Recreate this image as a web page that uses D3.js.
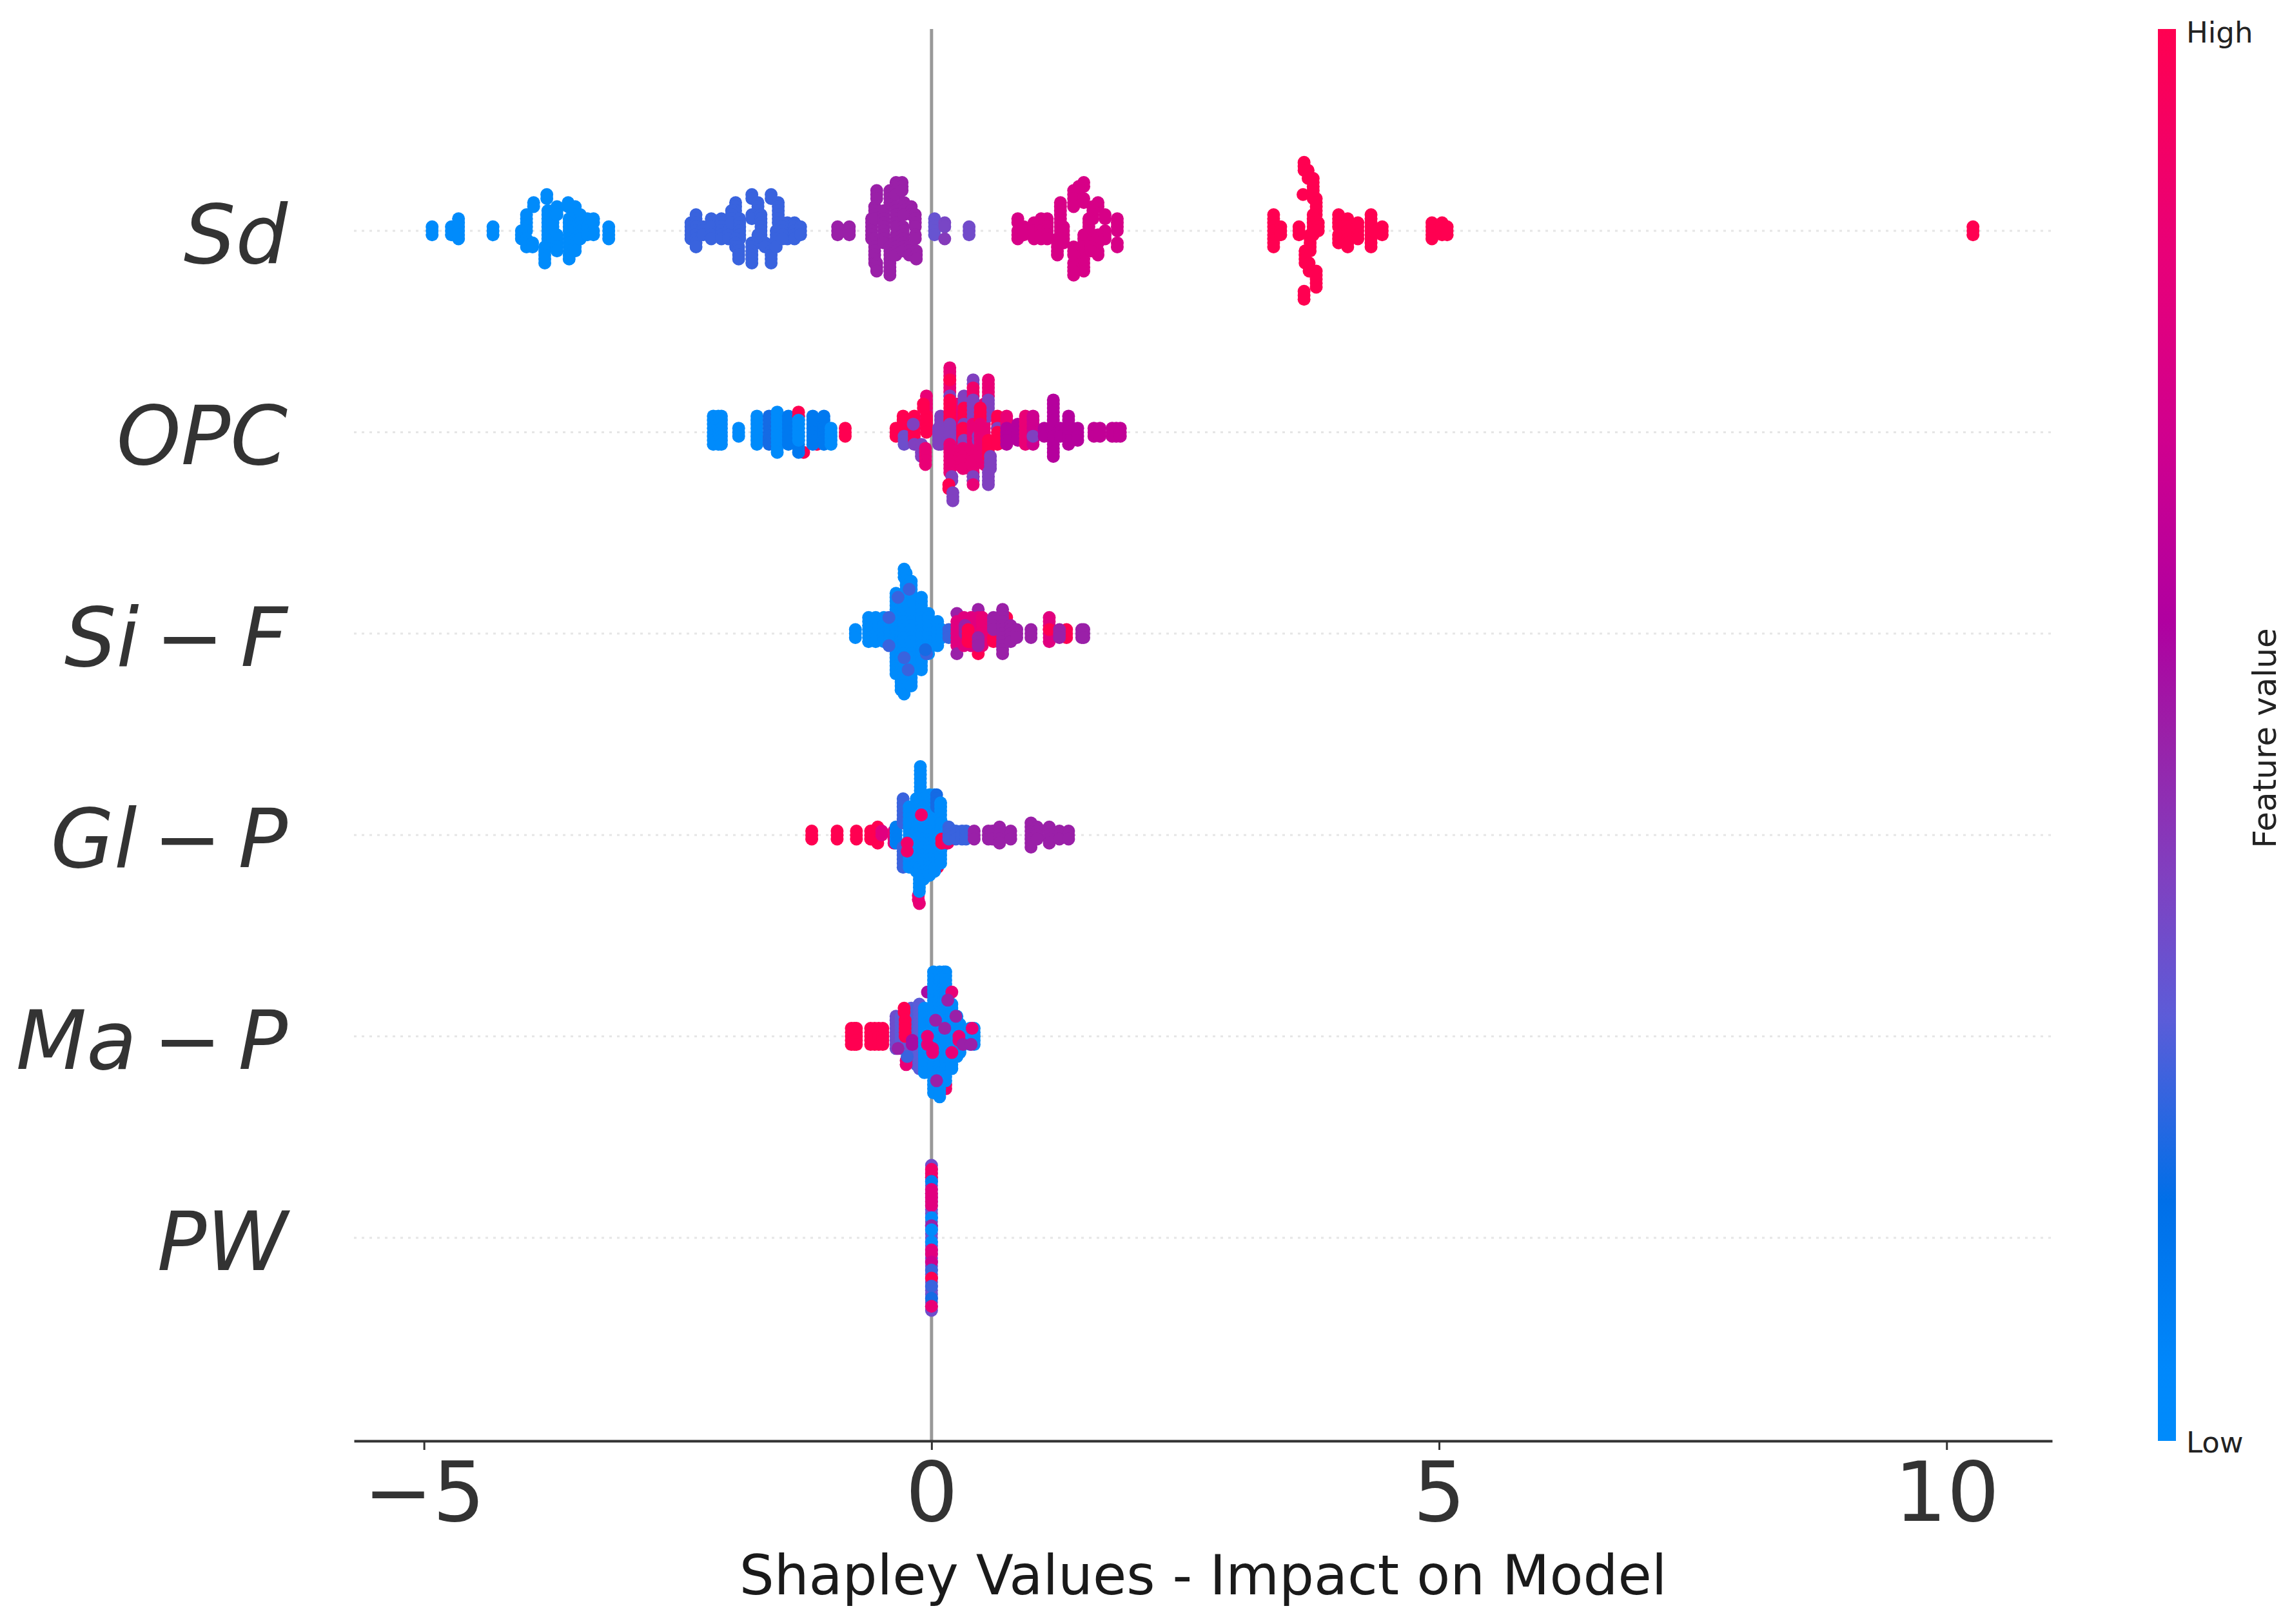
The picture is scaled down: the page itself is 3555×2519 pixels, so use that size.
<!DOCTYPE html>
<html>
<head>
<meta charset="utf-8">
<script src="https://cdn.jsdelivr.net/npm/d3@7"></script>
<style>
body { margin: 0; background: #fff; }
text { font-family: "DejaVu Sans", sans-serif; }
</style>
</head>
<body>
<svg id="chart" width="3555" height="2519"></svg>
<script>
// values. each run is [shap value, first layer, last layer, feature value]
// layers are the swarm stacking steps round the row line (negative = above)
var features = ["Sd", "OPC", "Si − F", "Gl − P", "Ma − P", "PW"];
var xTicks = [-5, 0, 5, 10];
var colorLevels = [0, 0.05, 0.17, 0.3, 0.4, 0.5, 0.58, 0.71, 0.84, 1];
var colorValues = ["#008bfb", "#0088fb", "#006fe8", "#5c5cd8", "#8040c0", "#9a20a8", "#b000a0", "#d0008e", "#e80078", "#ff0051"];

var sdRuns = [
  [-4.92,-1,1,0],[-4.73,-1,1,0],[-4.66,-3,2,0],[-4.32,-1,1,0],
  [-3.99,-4,0,0],[-4.04,0,2,0],[-3.99,2,4,0],[-3.93,3,4,0],[-3.92,-7,-6,0],
  [-3.79,-9,-8,0],[-3.78,-5,4,0],[-3.81,4,8,0],[-3.73,-2,2,0],[-3.69,-6,-4,0],[-3.69,1,5,0],
  [-3.58,-7,-6,0],[-3.51,-6,-3,0],[-3.46,-4,-2,0],[-3.57,-3,3,0],[-3.57,3,7,0],[-3.51,1,5,0],
  [-3.46,-2,2,0],[-3.39,-3,1,0],[-3.33,-3,-2,0],[-3.33,0,1,0],[-3.18,-1,2,0],
  [-2.37,-2,2,0.25],[-2.32,-4,4,0.25],[-2.25,-1,1,0.25],[-2.17,-3,-1,0.25],[-2.17,1,2,0.25],
  [-2.07,-3,2,0.25],[-2,0,2,0.25],[-1.93,-7,-5,0.25],[-1.97,-5,-2,0.25],[-1.89,-3,2,0.25],
  [-1.93,2,4,0.25],[-1.9,4,7,0.25],[-1.77,-9,-8,0.25],[-1.71,-7,-5,0.25],[-1.77,-4,-3,0.25],
  [-1.68,-4,1,0.25],[-1.71,1,3,0.25],[-1.77,3,8,0.25],[-1.64,3,4,0.25],[-1.58,5,8,0.25],
  [-1.58,-9,-8,0.25],[-1.51,-7,-2,0.25],[-1.42,-2,2,0.25],[-1.53,0,4,0.25],[-1.47,-2,2,0.25],
  [-1.35,-2,2,0.25],[-1.29,-1,1,0.25],
  [-0.925,-1,1,0.5],[-0.81,-1,1,0.5],[-0.59,-3,2,0.5],[-0.54,-10,-8,0.5],[-0.56,-6,-3,0.5],
  [-0.56,2,8,0.5],[-0.54,8,10,0.5],[-0.47,-5,3,0.5],[-0.41,-10,-7,0.5],[-0.35,-12,-9,0.5],
  [-0.41,4,11,0.5],[-0.35,1,6,0.5],[-0.35,-6,-1,0.5],[-0.29,-12,-10,0.5],[-0.27,-7,-4,0.5],
  [-0.2,-6,-4,0.5],[-0.16,-4,-1,0.5],[-0.28,-1,5,0.5],[-0.16,1,2,0.5],[-0.22,4,6,0.5],[-0.15,5,7,0.5],
  [0.03,-3,1,0.33],[0.13,-2,-1,0.38],[0.13,2,2,0.42],[0.37,-1,1,0.36],
  [0.85,-3,-2,0.75],[0.85,0,2,0.75],[0.91,-1,1,0.75],[1.01,-2,2,0.75],[1.08,-3,2,0.75],[1.14,-3,2,0.75],
  [1.27,-7,-3,0.75],[1.27,-2,1,0.75],[1.24,2,6,0.75],[1.3,-1,3,0.75],[1.5,-12,-11,0.75],[1.45,-11,-10,0.75],
  [1.4,-10,-8,0.75],[1.4,-7,-6,0.75],[1.5,-8,-7,0.75],[1.64,-7,-6,0.75],[1.59,-6,-3,0.75],[1.55,-3,3,0.75],
  [1.71,-4,-3,0.75],[1.83,-3,0,0.75],[1.83,3,4,0.75],[1.71,0,2,0.75],[1.64,1,3,0.75],[1.5,1,10,0.75],
  [1.4,4,6,0.75],[1.4,8,11,0.75],[1.64,5,6,0.75],[1.57,3,5,0.75],
  [3.37,-4,4,1],[3.44,-1,1,1],[3.62,-1,1,1],[3.66,-9,-9,1],[3.67,-17,-15,1],[3.71,-15,-13,1],
  [3.76,-13,-8,1],[3.79,-8,-4,1],[3.76,-4,1,1],[3.81,-2,0,1],[3.73,1,5,1],[3.68,5,8,1],[3.72,8,10,1],
  [3.79,10,11,1],[3.79,12,14,1],[3.67,15,17,1],[4.01,-4,-1,1],[4.01,1,3,1],[4.1,-3,4,1],
  [4.2,-2,2,1],[4.33,-4,4,1],[4.44,-1,1,1],[4.93,-2,2,1],[5.03,-2,1,1],[5.08,-1,1,1],[10.26,-1,1,1]
];

var opcRuns = [
  [-1.71,2,2,1],[-1.26,5,5,1],[-1.13,3,3,1],
  [-2.15,-4,3,0],[-2.1,-4,3,0],[-2.07,-4,3,0],[-1.9,-1,1,0],[-1.72,-4,3,0],[-1.6,-4,3,0.2],
  [-1.52,-5,5,0],[-1.41,-4,3,0.12],[-1.31,-4,5,0.12],[-1.31,-5,-4,1],[-1.31,-3,2,0],
  [-1.17,-4,3,0.12],[-1.06,-4,3,0.12],[-0.99,-1,3,0],[-0.85,-1,1,1],
  [-0.35,-1,1,1],[-0.28,-4,0,1],[-0.27,1,3,0.35],[-0.17,-4,2,1],[-0.18,-2,-2,0.4],[-0.17,3,3,0.4],
  [-0.05,-9,-1,0.85],[-0.08,-7,-6,1],[-0.05,-4,0,1],[-0.1,3,6,0.4],[-0.06,4,8,0.85],
  [0.25,-7,8,0.85],[0.37,-6,9,0.85],[0.52,-7,8,0.85],
  [0.09,-4,3,0.4],[0.07,-1,3,0.4],[0.18,-16,-10,0.85],[0.18,-13,-13,1],[0.18,-9,-9,0.4],
  [0.18,-8,-3,1],[0.18,-2,3,0.4],[0.18,3,7,0.85],[0.18,8,10,0.85],[0.2,11,12,0.4],[0.17,13,14,1],[0.21,15,17,0.4],
  [0.32,-9,-6,0.4],[0.32,-6,-3,1],[0.32,-2,1,0.4],[0.31,-1,1,1],[0.32,2,3,0.4],[0.31,4,9,0.85],
  [0.41,-13,-12,0.4],[0.41,-11,-9,0.9],[0.41,-8,-3,0.4],[0.41,-2,4,0.85],[0.46,1,2,0.4],[0.41,5,12,0.85],
  [0.41,11,12,0.4],[0.41,13,13,0.85],[0.56,-13,-9,0.85],[0.56,-8,-4,0.4],[0.48,-6,-3,1],[0.48,-2,6,0.85],
  [0.56,2,6,1],[0.58,6,9,0.4],[0.56,10,13,0.4],[0.65,-4,-1,1],[0.65,-1,0,0.4],[0.65,0,3,1],
  [0.74,-4,-1,0.85],[0.74,-1,3,0.6],[0.85,-2,2,0.6],[0.925,-4,3,0.85],[1,-4,3,0.7],[1,1,1,0.4],
  [1.11,-1,1,0.6],[1.2,-8,6,0.6],[1.27,-1,1,0.6],[1.35,-4,3,0.6],[1.44,-1,2,0.6],
  [1.6,-1,1,0.65],[1.66,-1,1,0.65],[1.78,-1,1,0.65],[1.82,-1,1,0.65],[1.86,-1,1,0.65]
];

var siRuns = [
  [-0.75,-1,1,0],[-0.62,-4,2,0],[-0.55,-4,2,0],[-0.47,-4,2,0],[-0.41,-4,2,0],
  [-0.35,-10,10,0],[-0.3,-9,14,0],[-0.27,-16,-14,0],[-0.25,-15,-9,0],[-0.27,-8,15,0],
  [-0.2,-13,-7,0],[-0.2,-6,13,0],[-0.1,-9,9,0],[-0.03,-5,5,0],[0.06,-3,3,0],[0.1,-1,1,0],
  [-0.42,-4,-4,0.25],[-0.42,3,3,0.25],[-0.33,-9,-9,0.25],[-0.22,-11,-11,0.25],[-0.27,6,6,0.25],
  [-0.23,9,9,0.25],[-0.05,5,5,0.25],[-0.06,4,4,0.2],[0.17,-1,1,0.25],
  [0.25,-5,-5,0.5],[0.25,-3,3,0.8],[0.25,5,5,0.5],[0.46,-6,-5,0.5],[0.46,4,5,1],
  [0.32,-4,3,0.8],[0.39,-4,3,0.8],[0.46,-4,3,0.8],[0.5,-4,3,0.85],[0.33,-2,0,0.5],
  [0.36,-1,2,1],[0.38,1,2,1],[0.46,1,3,0.5],
  [0.61,1,2,1],[0.61,-4,-1,0.5],[0.74,-4,-2,1],[0.7,-6,-3,0.5],[0.7,-3,3,0.5],[0.7,3,5,0.5],
  [0.78,-2,2,0.5],[0.84,-1,1,0.5],[0.98,-1,1,0.5],[1.33,-1,1,1],[1.16,-4,2,0.8],[1.16,-1,-1,1],
  [1.26,-1,1,0.5],[1.48,-1,1,0.5],[1.5,-1,1,0.5]
];

var glRuns = [
  [-1.18,-1,1,1],[-0.93,-1,1,1],[-0.74,-1,1,1],[-0.6,-1,1,1],[-0.56,-1,1,1],[-0.53,-2,2,1],
  [-0.49,-1,0,0.8],[-0.37,-1,2,0.85],[-0.12,17,17,0.85],[-0.13,15,16,0.85],[0.06,7,8,1],[-0.2,7,8,0.9],
  [-0.35,-2,2,0.1],[-0.28,-9,-3,0.25],[-0.28,3,8,0.25],[-0.22,-7,8,0],[-0.15,-9,9,0],
  [-0.11,-17,-8,0],[-0.12,8,14,0],[-0.08,-10,11,0],[-0.02,-10,10,0],[0.03,-10,9,0],
  [0.05,-10,-7,0.2],[0.09,-8,7,0],[0.1,-3,3,0],
  [-0.24,2,2,0.9],[-0.24,4,4,0.9],[-0.1,-5,-5,0.9],[0.1,1,2,1],[0.16,1,2,0.9],
  [0.17,-2,1,0.25],[0.24,-1,1,0.25],[0.3,-1,1,0.25],[0.34,-1,1,0.25],
  [0.42,-1,1,0.5],[0.56,-1,1,0.5],[0.6,-1,1,0.5],[0.67,-2,2,0.5],[0.78,-1,1,0.5],
  [0.98,-3,3,0.5],[1.04,-2,1,0.5],[1.16,-2,2,0.5],[1.26,-1,1,0.5],[1.35,-1,1,0.5]
];

var maRuns = [
  [-0.79,-2,2,1],[-0.76,-2,2,1],[-0.74,-2,2,1],[-0.6,-2,2,1],[-0.56,-2,2,1],[-0.52,-2,2,1],[-0.48,-2,2,1],
  [-0.35,-5,3,0.35],[-0.3,-5,3,0.3],[-0.2,-7,-5,0.3],[-0.2,-3,6,0.35],[-0.15,-7,7,0.28],[-0.12,-8,8,0.3],
  [-0.27,-7,-6,1],[-0.26,-4,0,1],[-0.25,6,7,0.85],[-0.24,5,5,0.25],[-0.33,3,3,0.5],[-0.19,1,2,0.55],
  [-0.04,-11,-11,0.55],[0.14,12,13,0.9],
  [-0.07,-7,9,0],[0,-6,-3,0],[0.02,-16,14,0],[0.08,-16,15,0],[0.12,-16,-8,0],[0.14,-16,11,0],
  [0.2,-8,8,0],[0.25,-5,5,0],[0.28,-3,4,0],[0.38,-2,2,0],[0.42,-2,2,0],
  [0.2,-11,-11,0.85],[0.16,-9,-9,0.5],[0.24,-5,-5,0.5],[0.04,-4,-4,0.5],[0.13,-2,-2,0.5],
  [-0.04,0,0,0.85],[-0.04,2,2,0.85],[0.01,3,4,0.85],[0.2,4,4,0.85],[0.27,0,1,0.85],[0.31,2,2,0.5],
  [0.4,-2,-2,0.85],[0.39,2,2,0.5],[0.05,11,11,0.5]
];

var pwRuns = [
  [0,-18,18,0.35],[0,-17,-15,0.9],[0,-14,-14,0.1],[0,-12,-8,0.8],[0,-5,-5,0],[0,-3,-3,0.5],[0,-2,-2,0],
  [0,1,1,0],[0,3,4,0.8],[0,6,6,0.7],[0,8,8,0.25],[0,10,10,1],[0,12,12,0.25],[0,15,15,0.2],[0,17,17,0.85]
];

var allRuns = [sdRuns, opcRuns, siRuns, glRuns, maRuns, pwRuns];

var svg = d3.select("#chart");

var x = d3.scaleLinear().domain([-5.69, 11.04]).range([549, 3183]);
var y = d3.scalePoint().domain(features).range([358, 1920]);
var layer = d3.scaleLinear().domain([-1, 1]).range([-6.25, 6.25]);
var color = d3.scaleLinear().domain(colorLevels).range(colorValues);
var barY = d3.scaleLinear().domain([0, 1]).range([2235, 45]);

// dotted row guides
svg.append("g").selectAll("line").data(features).enter().append("line")
    .attr("x1", 549).attr("x2", 3183)
    .attr("y1", function(d){ return y(d); })
    .attr("y2", function(d){ return y(d); })
    .attr("stroke", "#e6e6e6")
    .attr("stroke-width", 3)
    .attr("stroke-dasharray", "4 8");

// zero line
svg.append("line")
    .attr("x1", x(0)).attr("x2", x(0))
    .attr("y1", 45).attr("y2", 2235)
    .attr("stroke", "#999")
    .attr("stroke-width", 5);

// expand the runs to one dot per layer
features.forEach(function(name, i){
    var dots = [];
    allRuns[i].forEach(function(run){
        for (var l = run[1]; l <= run[2]; l++) {
            dots.push({v: run[0], l: l, f: run[3]});
        }
    });
    svg.append("g").selectAll("circle").data(dots).enter().append("circle")
        .attr("cx", function(d){ return x(d.v); })
        .attr("cy", function(d){ return y(name) + layer(d.l); })
        .attr("r", 10)
        .attr("fill", function(d){ return color(d.f); });
});

// x axis
var axis = svg.append("g")
    .attr("transform", "translate(0,2235)")
    .call(d3.axisBottom(x).tickValues(xTicks).tickSize(14).tickPadding(19).tickSizeOuter(0).tickFormat(d3.format("d")));
axis.select(".domain").attr("stroke", "#333").attr("stroke-width", 4);
axis.selectAll(".tick line").attr("stroke", "#333").attr("stroke-width", 3);
axis.selectAll(".tick text")
    .attr("fill", "#333")
    .style("font-size", "128px");

svg.append("text")
    .attr("x", 1866).attr("y", 2473)
    .attr("text-anchor", "middle")
    .attr("fill", "#1a1a1a")
    .style("font-size", "85px")
    .text("Shapley Values - Impact on Model");

// feature names, italic with an upright minus like the original
features.forEach(function(name){
    var parts = name.split(" − ");
    var t = svg.append("text")
        .attr("x", 446).attr("y", y(name) + 50)
        .attr("text-anchor", "end")
        .attr("fill", "#333")
        .style("font-size", "127px")
        .style("font-style", "italic");
    t.append("tspan").text(parts[0]);
    if (parts.length > 1) {
        t.append("tspan").attr("dx", "0.2em").style("font-style", "normal").text("−");
        t.append("tspan").attr("dx", "0.2em").text(parts[1]);
    }
});

// colour bar
var grad = svg.append("defs").append("linearGradient")
    .attr("id", "bar").attr("x1", 0).attr("x2", 0).attr("y1", 1).attr("y2", 0);
grad.selectAll("stop").data(colorLevels).enter().append("stop")
    .attr("offset", function(d){ return d; })
    .attr("stop-color", function(d){ return color(d); });
svg.append("rect")
    .attr("x", 3347).attr("y", barY(1))
    .attr("width", 28).attr("height", barY(0) - barY(1))
    .attr("fill", "url(#bar)");
svg.append("text").attr("x", 3391).attr("y", barY(1) + 21)
    .attr("fill", "#222").style("font-size", "45px").text("High");
svg.append("text").attr("x", 3391).attr("y", barY(0) + 18)
    .attr("fill", "#222").style("font-size", "45px").text("Low");
svg.append("text")
    .attr("transform", "translate(3530,1145) rotate(-90)")
    .attr("text-anchor", "middle")
    .attr("fill", "#222")
    .style("font-size", "50px")
    .text("Feature value");
</script>
</body>
</html>
